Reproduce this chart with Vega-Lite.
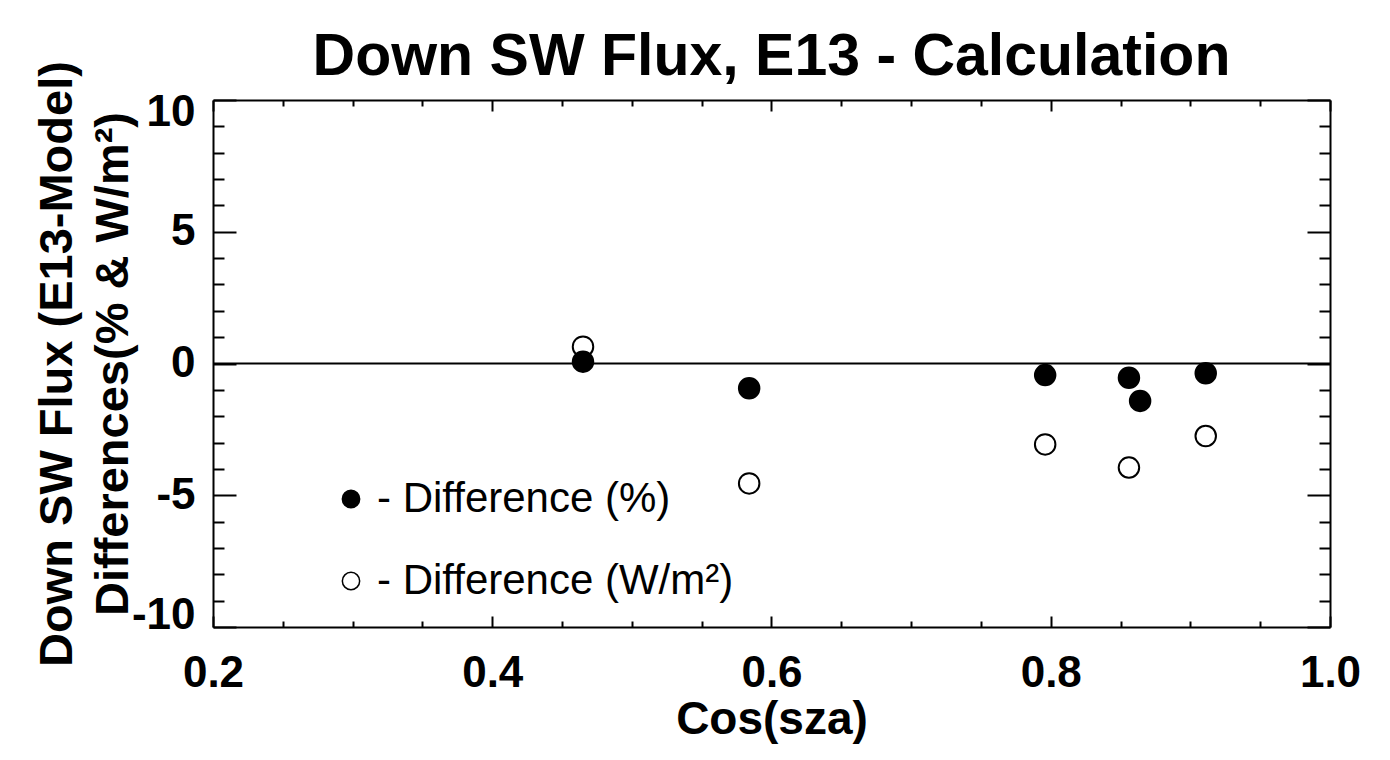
{
  "$schema": "https://vega.github.io/schema/vega-lite/v6.json",
  "width": 1117,
  "height": 527,
  "autosize": {"type": "none"},
  "padding": {"left": 213, "top": 100, "right": 60, "bottom": 133},
  "background": "white",
  "title": {
    "text": "Down SW Flux, E13 - Calculation",
    "font": "Liberation Sans",
    "fontSize": 59,
    "fontWeight": "bold",
    "color": "black",
    "anchor": "middle",
    "baseline": "alphabetic",
    "offset": -73
  },
  "datasets": {
    "points": [
      {"cos_sza": 0.465, "difference": 0.64, "series": "Difference (W/m²)"},
      {"cos_sza": 0.584, "difference": -4.55, "series": "Difference (W/m²)"},
      {"cos_sza": 0.796, "difference": -3.07, "series": "Difference (W/m²)"},
      {"cos_sza": 0.856, "difference": -3.95, "series": "Difference (W/m²)"},
      {"cos_sza": 0.911, "difference": -2.75, "series": "Difference (W/m²)"},
      {"cos_sza": 0.465, "difference": 0.07, "series": "Difference (%)"},
      {"cos_sza": 0.584, "difference": -0.94, "series": "Difference (%)"},
      {"cos_sza": 0.796, "difference": -0.44, "series": "Difference (%)"},
      {"cos_sza": 0.856, "difference": -0.54, "series": "Difference (%)"},
      {"cos_sza": 0.864, "difference": -1.42, "series": "Difference (%)"},
      {"cos_sza": 0.911, "difference": -0.37, "series": "Difference (%)"}
    ],
    "zero": [{"level": 0}]
  },
  "config": {
    "view": {"stroke": null},
    "axis": {
      "domainColor": "black",
      "domainWidth": 2,
      "tickColor": "black",
      "tickWidth": 2,
      "grid": false,
      "labelFont": "Liberation Sans",
      "labelFontSize": 44,
      "labelFontWeight": "bold",
      "labelColor": "black",
      "labelOverlap": false,
      "labelFlush": false,
      "titleFont": "Liberation Sans",
      "titleFontWeight": "bold",
      "titleColor": "black"
    }
  },
  "resolve": {"axis": {"x": "independent", "y": "independent"}},
  "layer": [
    {
      "data": {"name": "zero"},
      "mark": {"type": "rule", "color": "black", "strokeWidth": 2},
      "encoding": {
        "y": {"field": "level", "type": "quantitative", "scale": {"domain": [-10, 10], "nice": false}, "axis": null}
      }
    },
    {
      "data": {"name": "points"},
      "transform": [{"filter": "datum.series == 'Difference (W/m²)'"}],
      "mark": {"type": "point", "filled": true, "stroke": "black", "strokeWidth": 2, "size": 420, "opacity": 1},
      "encoding": {
        "x": {
          "field": "cos_sza", "type": "quantitative",
          "scale": {"domain": [0.2, 1.0], "nice": false, "zero": false},
          "axis": {
            "orient": "bottom",
            "values": [0.2, 0.25, 0.3, 0.35, 0.4, 0.45, 0.5, 0.55, 0.6, 0.65, 0.7, 0.75, 0.8, 0.85, 0.9, 0.95, 1.0],
            "tickSize": {"condition": {"test": "abs(datum.value*5-round(datum.value*5))<0.001", "value": -11}, "value": -6},
            "labelExpr": "abs(datum.value*5-round(datum.value*5))<0.001 ? format(datum.value,'.1f') : ''",
            "labelPadding": 35,
            "title": "Cos(sza)",
            "titleFontSize": 46,
            "titlePadding": -3
          }
        },
        "y": {
          "field": "difference", "type": "quantitative",
          "scale": {"domain": [-10, 10], "nice": false},
          "axis": {
            "orient": "left",
            "values": [-10, -9, -8, -7, -6, -5, -4, -3, -2, -1, 0, 1, 2, 3, 4, 5, 6, 7, 8, 9, 10],
            "tickSize": {"condition": {"test": "datum.value % 5 == 0", "value": -23}, "value": -11},
            "labelExpr": "datum.value % 5 == 0 ? '' + datum.value : ''",
            "labelPadding": 41,
            "labelFlush": true,
            "labelFlushOffset": 10,
            "title": ["Down SW Flux (E13-Model)", "Differences(% & W/m²)"],
            "titleFontSize": 47,
            "titleLineHeight": 56,
            "titlePadding": -6
          }
        },
        "fill": {
          "field": "series", "type": "nominal",
          "scale": {"domain": ["Difference (%)", "Difference (W/m²)"], "range": ["black", "white"]},
          "legend": {
            "orient": "none",
            "legendX": 117,
            "legendY": 378,
            "title": null,
            "padding": 0,
            "labelFont": "Liberation Sans",
            "labelFontSize": 42,
            "labelFontWeight": "normal",
            "labelColor": "black",
            "labelLimit": 0,
            "labelExpr": "'- ' + datum.label",
            "symbolType": "circle",
            "symbolSize": 300,
            "symbolStrokeColor": "black",
            "symbolStrokeWidth": 1.5,
            "rowPadding": 40,
            "labelOffset": 5
          }
        }
      }
    },
    {
      "data": {"name": "points"},
      "transform": [{"filter": "datum.series == 'Difference (%)'"}],
      "mark": {"type": "point", "filled": true, "stroke": "black", "strokeWidth": 2, "size": 420, "opacity": 1},
      "encoding": {
        "x": {
          "field": "cos_sza", "type": "quantitative",
          "scale": {"domain": [0.2, 1.0], "nice": false, "zero": false},
          "axis": {
            "orient": "top",
            "values": [0.2, 0.25, 0.3, 0.35, 0.4, 0.45, 0.5, 0.55, 0.6, 0.65, 0.7, 0.75, 0.8, 0.85, 0.9, 0.95, 1.0],
            "tickSize": {"condition": {"test": "abs(datum.value*5-round(datum.value*5))<0.001", "value": -11}, "value": -6},
            "labels": false,
            "title": null
          }
        },
        "y": {
          "field": "difference", "type": "quantitative",
          "scale": {"domain": [-10, 10], "nice": false},
          "axis": {
            "orient": "right",
            "values": [-10, -9, -8, -7, -6, -5, -4, -3, -2, -1, 0, 1, 2, 3, 4, 5, 6, 7, 8, 9, 10],
            "tickSize": {"condition": {"test": "datum.value % 5 == 0", "value": -23}, "value": -11},
            "labels": false,
            "title": null
          }
        },
        "fill": {
          "field": "series", "type": "nominal",
          "scale": {"domain": ["Difference (%)", "Difference (W/m²)"], "range": ["black", "white"]}
        }
      }
    }
  ]
}
